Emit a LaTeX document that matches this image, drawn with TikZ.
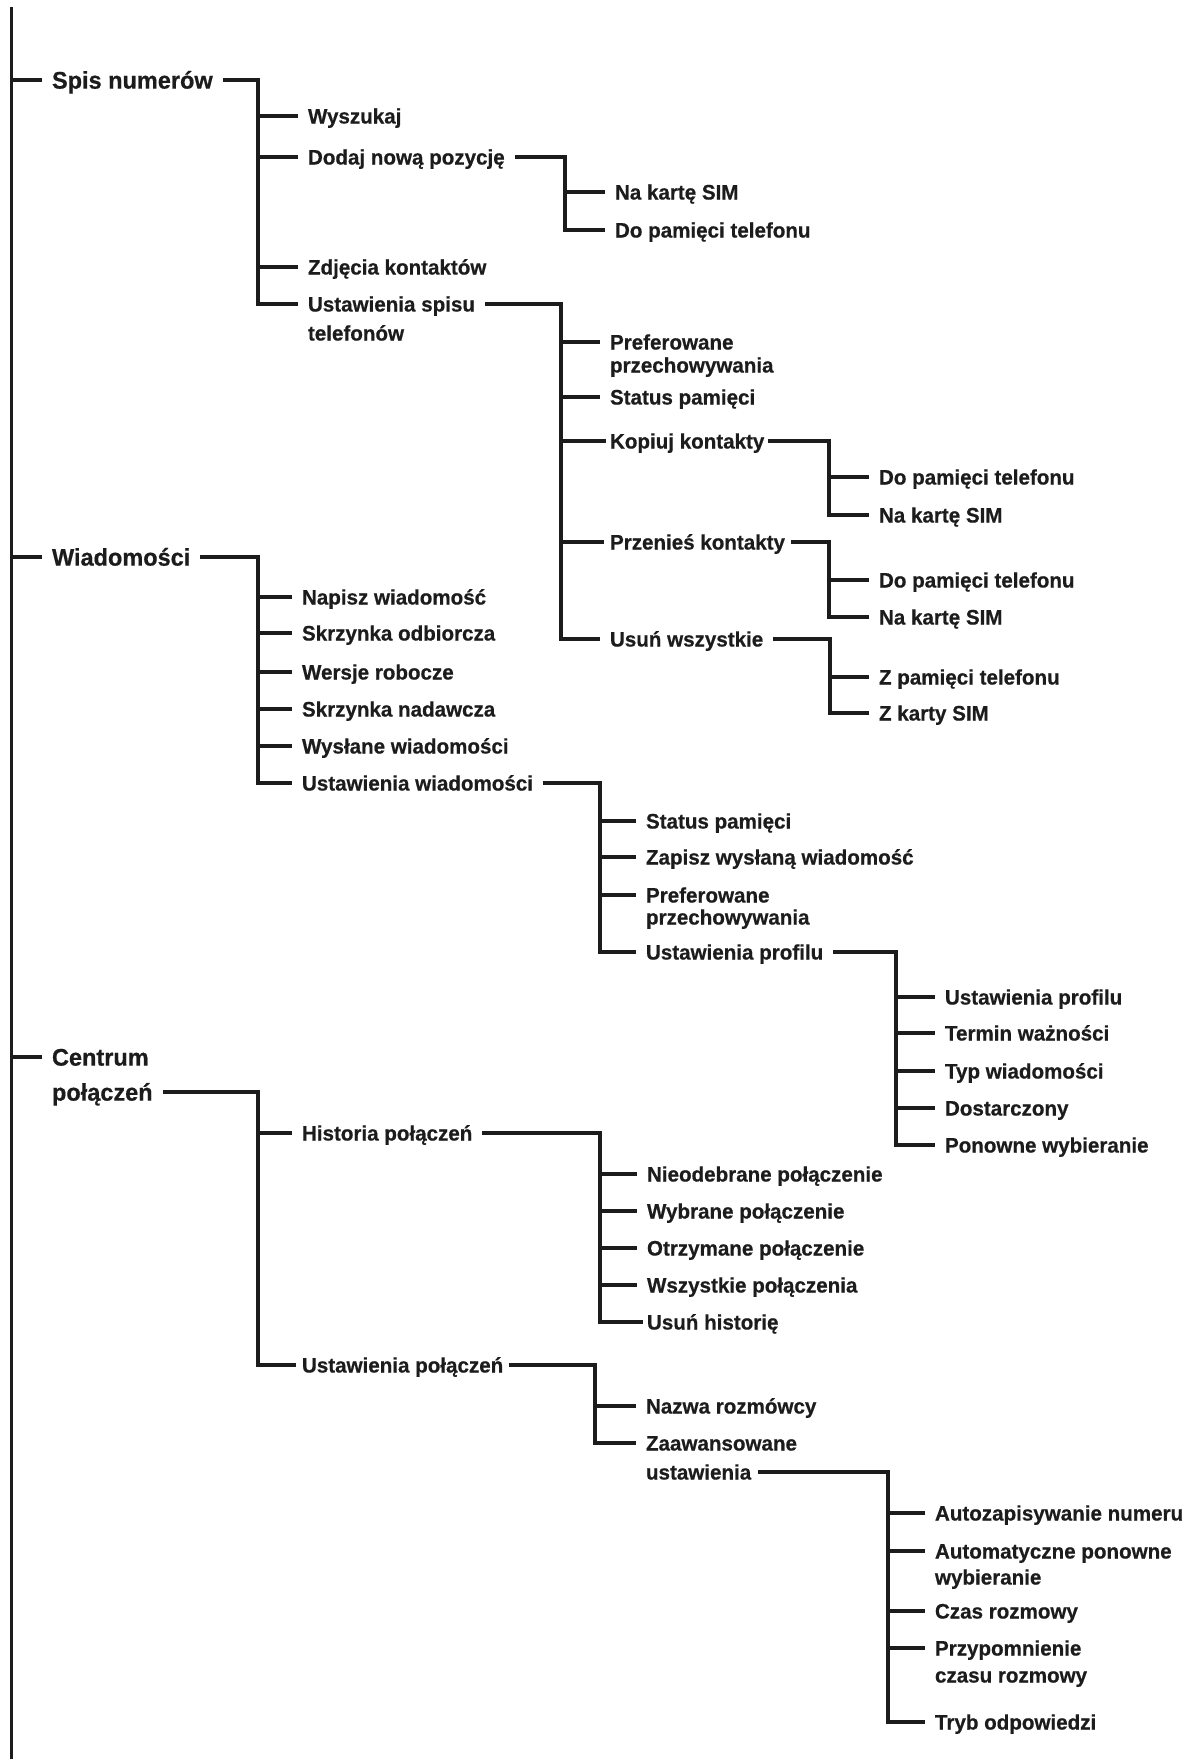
\documentclass[tikz,border=0pt]{standalone}
\usepackage{fontspec}
\setmainfont{Liberation Sans}[FakeStretch=0.98, BoldFeatures={FakeBold=0.6}]
\definecolor{ink}{HTML}{1C1C1C}
\begin{document}
\begin{tikzpicture}[x=1pt,y=-1pt,
  lbl/.style={font=\bfseries\fontsize{21}{25}\selectfont, text=ink, anchor=west, inner xsep=10pt, inner ysep=0pt, outer sep=0pt, text height=19.95pt, text depth=4.9pt},
  toplbl/.style={lbl, font=\bfseries\fontsize{24}{29}\selectfont, text height=22.8pt, text depth=5.6pt},
  wire/.style={line width=3.4pt, draw=ink}]
\useasboundingbox (0,0) rectangle (1196,1759);
% bars
\coordinate (rtop) at (11.5,7);
\coordinate (rbot) at (11.5,1759);
\coordinate (bS) at (258,0);
\coordinate (bD) at (565,0);
\coordinate (bU) at (561,0);
\coordinate (bK) at (829,0);
\coordinate (bP) at (829,0);
\coordinate (bW) at (830,0);
\coordinate (bM) at (258,0);
\coordinate (bUW) at (600,0);
\coordinate (bUP) at (896,0);
\coordinate (bC) at (258,0);
\coordinate (bH) at (600,0);
\coordinate (bUC) at (595,0);
\coordinate (bZ) at (888,0);

% top level
\node[toplbl] (spis) at (42,80) {Spis numerów};
\node[toplbl] (wiad) at (42,557) {Wiadomości};
\node[toplbl] (cent) at (42,1057) {Centrum};
\node[toplbl] (cent2) at (42,1092) {połączeń};

% Spis numerow
\node[lbl] (wysz) at (298,116) {Wyszukaj};
\node[lbl] (doda) at (298,157) {Dodaj nową pozycję};
\node[lbl] (dsim) at (605,192) {Na kartę SIM};
\node[lbl] (dtel) at (605,230) {Do pamięci telefonu};
\node[lbl] (zdje) at (298,267) {Zdjęcia kontaktów};
\node[lbl] (ussp) at (298,304) {Ustawienia spisu};
\node[lbl] (ussp2) at (298,333) {telefonów};
\node[lbl] (pref) at (600,342) {Preferowane};
\node[lbl] (pref2) at (600,365) {przechowywania};
\node[lbl] (stat) at (600,397) {Status pamięci};
\node[lbl,inner xsep=4pt] (kopi) at (606,441) {Kopiuj kontakty};
\node[lbl] (ktel) at (869,477) {Do pamięci telefonu};
\node[lbl] (ksim) at (869,515) {Na kartę SIM};
\node[lbl,inner xsep=6pt] (prze) at (604,542) {Przenieś kontakty};
\node[lbl] (ptel) at (869,580) {Do pamięci telefonu};
\node[lbl] (psim) at (869,617) {Na kartę SIM};
\node[lbl] (usun) at (600,639) {Usuń wszystkie};
\node[lbl] (utel) at (869,677) {Z pamięci telefonu};
\node[lbl] (usim) at (869,713) {Z karty SIM};

% Wiadomosci
\node[lbl] (napi) at (292,597) {Napisz wiadomość};
\node[lbl] (sodb) at (292,633) {Skrzynka odbiorcza};
\node[lbl] (wers) at (292,672) {Wersje robocze};
\node[lbl] (snad) at (292,709) {Skrzynka nadawcza};
\node[lbl] (wysl) at (292,746) {Wysłane wiadomości};
\node[lbl] (uswi) at (292,783) {Ustawienia wiadomości};
\node[lbl] (wsta) at (636,821) {Status pamięci};
\node[lbl] (zapi) at (636,857) {Zapisz wysłaną wiadomość};
\node[lbl] (wpre) at (636,895) {Preferowane};
\node[lbl] (wpre2) at (636,917) {przechowywania};
\node[lbl] (uspr) at (636,952) {Ustawienia profilu};
\node[lbl] (pust) at (935,997) {Ustawienia profilu};
\node[lbl] (term) at (935,1033) {Termin ważności};
\node[lbl] (typw) at (935,1071) {Typ wiadomości};
\node[lbl] (dost) at (935,1108) {Dostarczony};
\node[lbl] (pono) at (935,1145) {Ponowne wybieranie};

% Centrum polaczen
\node[lbl] (hist) at (292,1133) {Historia połączeń};
\node[lbl] (nieo) at (637,1174) {Nieodebrane połączenie};
\node[lbl] (wybr) at (637,1211) {Wybrane połączenie};
\node[lbl] (otrz) at (637,1248) {Otrzymane połączenie};
\node[lbl] (wszy) at (637,1285) {Wszystkie połączenia};
\node[lbl,inner xsep=4pt] (usuh) at (643,1322) {Usuń historię};
\node[lbl,inner xsep=6pt] (uspo) at (296,1365) {Ustawienia połączeń};
\node[lbl] (nazw) at (636,1406) {Nazwa rozmówcy};
\node[lbl] (zaaw) at (636,1443) {Zaawansowane};
\node[lbl,inner xsep=7pt] (zaaw2) at (639,1472) {ustawienia};
\node[lbl] (auto) at (925,1513) {Autozapisywanie numeru};
\node[lbl] (aupo) at (925,1551) {Automatyczne ponowne};
\node[lbl] (aupo2) at (925,1577) {wybieranie};
\node[lbl] (czas) at (925,1611) {Czas rozmowy};
\node[lbl] (przy) at (925,1648) {Przypomnienie};
\node[lbl] (przy2) at (925,1675) {czasu rozmowy};
\node[lbl] (tryb) at (925,1722) {Tryb odpowiedzi};

% root
\draw[wire] (rtop) -- (rbot);
\foreach \n in {spis,wiad,cent} \draw[wire] (\n.west -| rtop) -- (\n.west);

% Spis numerow
\draw[wire] (spis.east) -| (ussp.west -| bS) -- (ussp.west);
\foreach \n in {wysz,doda,zdje} \draw[wire] (\n.west -| bS) -- (\n.west);
\draw[wire] (doda.east) -| (dtel.west -| bD) -- (dtel.west);
\draw[wire] (dsim.west -| bD) -- (dsim.west);
\draw[wire] (ussp.east) -| (usun.west -| bU) -- (usun.west);
\foreach \n in {pref,stat,kopi,prze} \draw[wire] (\n.west -| bU) -- (\n.west);
\draw[wire] (kopi.east) -| (ksim.west -| bK) -- (ksim.west);
\draw[wire] (ktel.west -| bK) -- (ktel.west);
\draw[wire] (prze.east) -| (psim.west -| bP) -- (psim.west);
\draw[wire] (ptel.west -| bP) -- (ptel.west);
\draw[wire] (usun.east) -| (usim.west -| bW) -- (usim.west);
\draw[wire] (utel.west -| bW) -- (utel.west);

% Wiadomosci
\draw[wire] (wiad.east) -| (uswi.west -| bM) -- (uswi.west);
\foreach \n in {napi,sodb,wers,snad,wysl} \draw[wire] (\n.west -| bM) -- (\n.west);
\draw[wire] (uswi.east) -| (uspr.west -| bUW) -- (uspr.west);
\foreach \n in {wsta,zapi,wpre} \draw[wire] (\n.west -| bUW) -- (\n.west);
\draw[wire] (uspr.east) -| (pono.west -| bUP) -- (pono.west);
\foreach \n in {pust,term,typw,dost} \draw[wire] (\n.west -| bUP) -- (\n.west);

% Centrum polaczen
\draw[wire] (cent2.east) -| (uspo.west -| bC) -- (uspo.west);
\draw[wire] (hist.west -| bC) -- (hist.west);
\draw[wire] (hist.east) -| (usuh.west -| bH) -- (usuh.west);
\foreach \n in {nieo,wybr,otrz,wszy} \draw[wire] (\n.west -| bH) -- (\n.west);
\draw[wire] (uspo.east) -| (zaaw.west -| bUC) -- (zaaw.west);
\draw[wire] (nazw.west -| bUC) -- (nazw.west);
\draw[wire] (zaaw2.east) -| (tryb.west -| bZ) -- (tryb.west);
\foreach \n in {auto,aupo,czas,przy} \draw[wire] (\n.west -| bZ) -- (\n.west);
\end{tikzpicture}
\end{document}
